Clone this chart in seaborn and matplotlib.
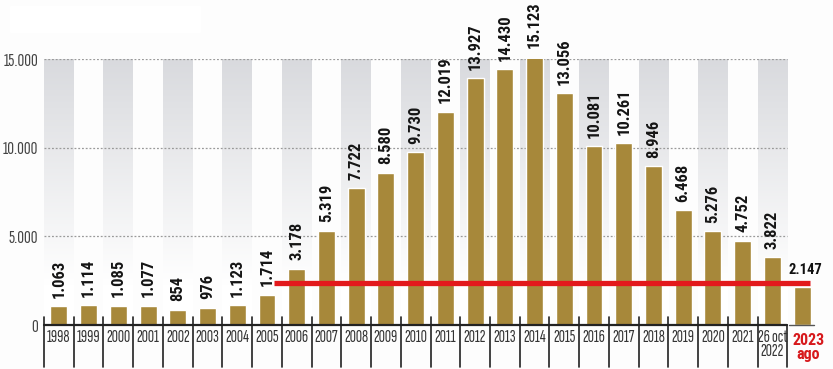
import matplotlib
matplotlib.use("Agg")
import matplotlib.pyplot as plt
import matplotlib.transforms as mtransforms
import numpy as np
import pandas as pd
import seaborn as sns
import warnings
import logging

logging.getLogger("matplotlib.font_manager").setLevel(logging.ERROR)
warnings.filterwarnings("ignore")

categories = ["1998", "1999", "2000", "2001", "2002", "2003", "2004", "2005",
              "2006", "2007", "2008", "2009", "2010", "2011", "2012", "2013",
              "2014", "2015", "2016", "2017", "2018", "2019", "2020", "2021",
              "26 oct\n2022", "2023\nago"]
values = [1063, 1114, 1085, 1077, 854, 976, 1123, 1714, 3178, 5319, 7722, 8580,
          9730, 12019, 13927, 14430, 15123, 13056, 10081, 10261, 8946, 6468,
          5276, 4752, 3822, 2147]
value_labels = ["1.063", "1.114", "1.085", "1.077", "854", "976", "1.123", "1.714",
                "3.178", "5.319", "7.722", "8.580", "9.730", "12.019", "13.927",
                "14.430", "15.123", "13.056", "10.081", "10.261", "8.946", "6.468",
                "5.276", "4.752", "3.822", "2.147"]
yticks = [0, 5000, 10000, 15000]
ytick_labels = ["0", "5.000", "10.000", "15.000"]
reference_level = 2147

sns.set_theme(style="white")
narrow = ["Sofia Sans Extra Condensed", "Saira ExtraCondensed", "Roboto Condensed",
          "DejaVu Sans"]
boldfam = ["Roboto Condensed", "DejaVu Sans"]

bar_color = "#a7883a"
df = pd.DataFrame({"cat": categories, "val": values})

fig = plt.figure(figsize=(8.33, 3.69), dpi=100, facecolor="#fdfdfd")
ax = fig.add_axes([44 / 833, 44 / 369, 773 / 833, 266 / 369])
ax.set_facecolor("#fdfdfd")

n = len(categories)

# gradient stripes on alternating columns
grad = np.linspace(0, 1, 256).reshape(-1, 1)
top = np.array([0.85, 0.855, 0.87])
white = np.array([1.0, 1.0, 1.0])
t = np.clip((grad - 0.15) / 0.85, 0, 1)
img = (white + (top - white) * t).reshape(256, 1, 3)
for i in range(0, n - 1, 2):
    ax.imshow(img, extent=(i - 0.5, i + 0.5, 0, 15000), origin="lower",
              aspect="auto", zorder=0.5, interpolation="bilinear")

# dotted grid lines
for yv in yticks[1:]:
    ax.plot([-0.5, n - 1.5], [yv, yv], linestyle=(0, (1.5, 1.5)), color="#9a9a9a",
            lw=0.9, zorder=1)

sns.barplot(data=df, x="cat", y="val", color=bar_color, saturation=1, width=0.57,
            ax=ax, zorder=2)
ax.set_xlim(-0.5, n - 0.5)
ax.set_ylim(0, 15000)

# value labels
for i, (v, lab) in enumerate(zip(values, value_labels)):
    if i == n - 1:
        ax.text(25.1, v + 560, lab, ha="center", va="bottom",
                fontsize=10.5, fontweight="bold", color="#111111", zorder=5,
                family=boldfam)
    else:
        ax.text(i, v + 480, lab, ha="center", va="bottom", rotation=90,
                fontsize=12, fontweight="bold", color="#151515", zorder=5,
                family=boldfam)

# red reference line
ax.plot([7.25, 25.27], [reference_level + 220, reference_level + 220],
        color="#e3191c", lw=3.8, solid_capstyle="butt", zorder=4, clip_on=False)

# axis line and separators
ax.plot([-0.5, n - 1.5], [0, 0], color="#222222", lw=1.6, zorder=3, clip_on=False)
ax.plot([n - 1.45, n - 0.6], [0, 0], color="#555555", lw=1.0, zorder=3, clip_on=False)
trans = mtransforms.blended_transform_factory(ax.transData, ax.transAxes)
for i in range(n - 1):
    ax.plot([i - 0.5, i - 0.5], [0.03, -0.158], color="#222222", lw=1.2,
            transform=trans, clip_on=False, zorder=3)
ax.plot([n - 1.5, n - 1.5], [0.0, -0.158], color="#222222", lw=1.2,
        transform=trans, clip_on=False, zorder=3)

# x tick labels
ax.set_xticks([])
ax.set_xlabel("")
for i, c in enumerate(categories):
    if i == n - 1:
        ax.text(25.2, -0.03, c, transform=trans, ha="center", va="top",
                fontsize=11.5, fontweight="bold", color="#d7191c",
                family=boldfam, linespacing=0.95)
    else:
        ax.text(i, -0.02, c, transform=trans, ha="center", va="top",
                fontsize=12.5, color="#333333", family=narrow, linespacing=0.9)

ax.set_yticks(yticks)
ax.set_yticklabels(ytick_labels, family=narrow, fontsize=13.5, color="#444444")
ax.tick_params(axis="y", length=0, pad=4)
ax.set_ylabel("")
for s in ax.spines.values():
    s.set_visible(False)

# blank box at top left
fig.patches.append(plt.Rectangle((10 / 833, 1 - 32 / 369), 190 / 833, 26 / 369,
                                 transform=fig.transFigure, color="white",
                                 zorder=0))

fig.savefig("out.png", dpi=100, facecolor=fig.get_facecolor())
